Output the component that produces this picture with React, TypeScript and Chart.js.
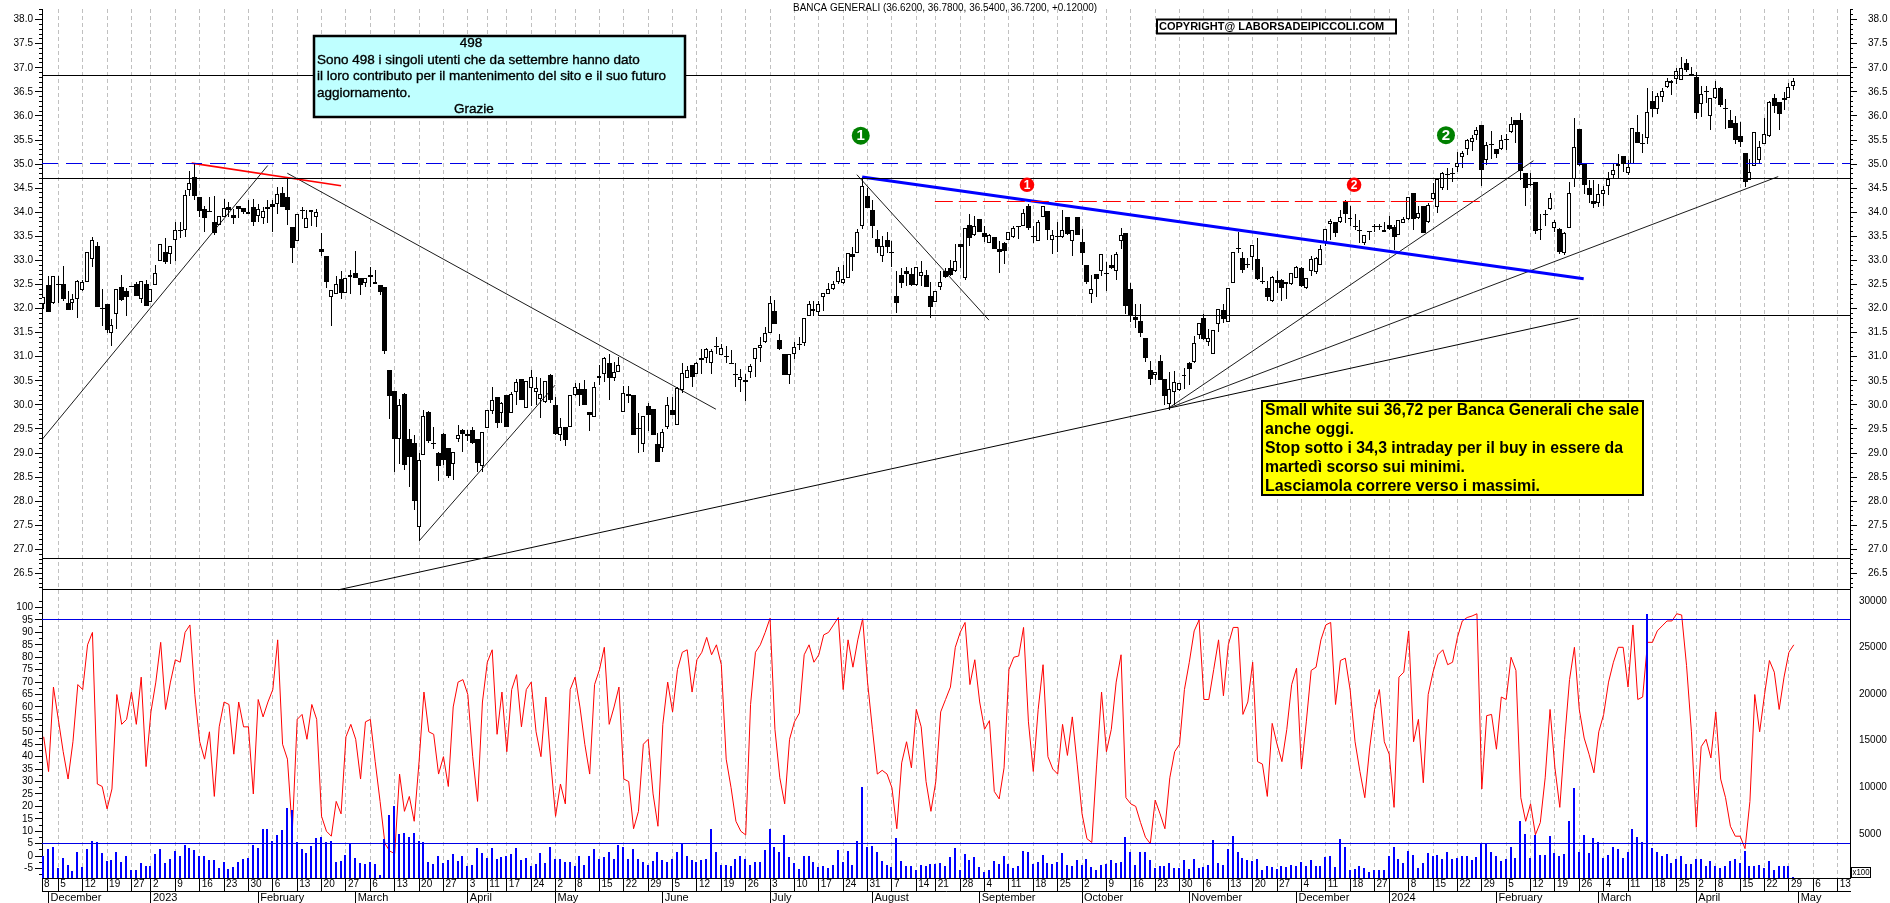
import React, { useEffect, useRef } from "react";
import { Chart, registerables } from "chart.js";

Chart.register(...registerables);

// ---------- DATA: [open, high, low, close] per trading day ----------
const ohlcWinter: number[][] = [
[32.10,32.23,31.99,32.23],[32.48,32.67,31.92,31.93],[32.11,32.68,32.09,32.68],[32.51,32.67,32.12,32.49],[32.5,32.89,32.16,32.2],[32.11,32.36,31.96,31.96],[32.11,32.31,31.97,32.2],[32.19,32.59,31.8,32.57],[32.38,32.59,32.37,32.55],[32.55,33.18,32.55,33.17],
[33.03,33.49,32.86,33.42],[33.3,33.39,32.04,32.04],[32.01,32.4,31.64,31.99],[32.09,32.09,31.5,31.56],[31.49,31.78,31.22,31.66],[31.88,32.41,31.57,32.4],[32.45,32.7,32.16,32.18],[32.36,32.43,31.84,32.23],[32.46,32.47,32.44,32.44],[32.5,32.55,32.26,32.26],
[32.19,32.58,32.11,32.58],[32.5,32.6,32.05,32.05],[32.14,32.4,32.14,32.4],[32.48,32.91,32.48,32.73],[32.99,33.34,32.98,33.34],[33.18,33.46,32.93,32.96],[33.14,33.3,32.93,33.3],[33.43,33.8,32.98,33.63],[33.64,33.8,33.46,33.62],[33.63,34.47,33.49,34.35],
[34.47,34.85,34.34,34.6],[34.73,35.01,34.25,34.33],[34.32,34.32,33.9,34.02],[34.07,34.14,33.58,33.89],[34.03,34.32,34.0,34.01],[33.79,34.33,33.53,33.56],[33.73,33.92,33.73,33.92],[33.9,34.28,33.9,34.08],[34.11,34.21,33.9,34.05],[33.94,34.07,33.75,33.89],
[34.12,34.12,33.88,34.07],[34.08,34.08,33.96,34.0],[33.96,34.25,33.96,34.0],[34.1,34.28,33.71,33.8],[33.92,34.18,33.79,34.07],[33.89,34.1,33.75,34.02],[34.11,34.26,33.78,34.07],[34.17,34.26,33.6,34.11],[34.18,34.52,33.97,34.37],[34.4,34.52,34.11,34.11],
[34.32,34.71,33.73,34.05],[33.7,33.7,32.94,33.25],[33.4,33.97,33.4,33.97],[34.04,34.11,33.87,34.02],[33.67,34.04,33.67,33.88],[34.01,34.05,33.72,34.05],[33.9,34.07,33.7,34.0],[33.24,33.56,33.1,33.17],[33.1,33.1,32.43,32.55],[32.23,32.38,31.63,32.38],
[32.31,32.67,32.31,32.52],[32.62,32.77,32.2,32.33],[32.33,32.64,32.33,32.64],[32.66,32.8,32.31,32.7],[32.74,33.2,32.64,32.64],[32.64,32.64,32.29,32.48],[32.53,32.64,32.45,32.64],[32.7,32.86,32.45,32.66],[32.5,32.81,32.5,32.55],[32.48,32.48,32.29,32.35],
[32.44,32.44,31.05,31.12],[30.73,30.73,29.71,30.19],[30.29,30.29,28.6,29.3],[29.29,30.12,28.77,30.0],[30.23,30.25,28.64,28.75],[29.3,29.5,28.3,28.92],[29.2,29.38,27.82,28.0],[27.46,29.0,27.18,28.85],[28.96,29.9,28.96,29.76],[29.85,29.88,29.2,29.25],
[29.21,29.55,29.09,29.19],[29.0,29.02,28.42,28.73],[29.4,29.42,28.75,28.86],[29.11,29.11,28.49,28.53],[28.78,29.03,28.45,29.03],[29.29,29.59,29.23,29.37],[29.47,29.5,29.02,29.4],[29.4,29.47,29.25,29.35],[29.47,29.54,29.18,29.2],[29.3,29.3,28.6,28.8],
];
const ohlcSummer: number[][] = [
[28.73,29.43,28.6,29.43],[29.52,29.89,29.52,29.89],[29.88,30.38,29.81,30.1],[30.16,30.16,29.53,29.62],[29.83,30.07,29.62,30.03],[30.2,30.2,29.55,29.55],[29.83,30.26,29.83,30.22],[30.27,30.53,30.0,30.47],[30.53,30.53,30.11,30.11],[29.93,30.5,29.93,30.5],
[30.36,30.72,29.97,30.58],[30.27,30.58,30.0,30.36],[30.12,30.55,29.73,30.22],[30.07,30.5,30.03,30.5],[30.62,30.65,30.03,30.11],[30.0,30.17,29.38,29.4],[29.38,29.73,29.26,29.55],[29.55,29.55,29.14,29.28],[29.55,30.2,29.55,30.2],[30.2,30.45,30.19,30.38],
[30.34,30.45,29.98,30.2],[30.34,30.51,30.0,30.0],[29.85,29.85,29.45,29.78],[29.75,30.48,29.75,30.38],[30.55,30.83,30.41,30.59],[30.65,30.99,30.48,30.98],[30.86,31.06,30.1,30.55],[30.55,30.89,30.5,30.68],[30.68,30.99,30.68,30.83],[29.86,30.39,29.85,30.25],
[30.22,30.39,30.03,30.19],[30.2,30.2,29.38,29.38],[29.51,29.84,29.0,29.49],[29.19,29.76,29.03,29.76],[29.98,30.03,29.45,29.8],[29.91,29.91,29.37,29.37],[29.18,29.42,28.82,28.82],[29.11,29.5,29.03,29.44],[29.54,30.17,29.5,30.0],[29.9,30.17,29.78,29.78],
[29.58,30.37,29.58,30.36],[30.31,30.86,30.24,30.67],[30.55,30.8,30.55,30.72],[30.82,30.83,30.38,30.58],[30.65,30.89,30.65,30.88],[30.98,31.16,30.65,30.93],[30.98,31.18,30.88,31.16],[30.86,31.16,30.64,31.12],[31.22,31.42,31.06,31.2],[31.04,31.27,31.03,31.18],
[31.01,31.23,30.86,30.99],[30.87,31.13,30.85,30.85],[30.65,30.86,30.38,30.62],[30.51,30.75,30.27,30.57],[30.51,30.65,30.08,30.48],[30.68,30.85,30.56,30.8],[30.96,31.18,30.58,31.18],[31.18,31.42,30.89,31.24],[31.3,31.61,31.29,31.5],[31.5,32.26,31.5,32.11],
[31.95,32.17,31.68,31.68],[31.35,31.47,31.13,31.16],[31.06,31.06,30.62,30.62],[30.62,31.06,30.43,31.06],[31.06,31.3,30.95,31.2],[31.27,31.41,31.13,31.25],[31.28,31.8,31.23,31.8],[31.85,32.16,31.85,32.09],[31.94,32.16,31.85,32.0],[31.92,32.16,31.85,32.1],
[32.23,32.33,31.95,32.33],[32.31,32.53,32.3,32.4],[32.4,32.57,32.38,32.5],[32.55,32.86,32.52,32.77],[32.53,32.91,32.52,32.62],[32.64,33.15,32.64,33.15],[33.14,33.27,32.77,33.07],[33.15,33.66,33.15,33.59],[33.71,34.73,33.66,34.55],[34.34,34.5,34.09,34.09],
[34.04,34.26,33.46,33.71],[33.44,33.63,33.15,33.27],[33.1,33.5,32.96,33.3],[33.42,33.6,33.15,33.27],[33.17,33.41,32.86,33.15],[32.27,32.77,31.9,32.12],[32.7,32.84,32.43,32.53],[32.77,32.86,32.46,32.72],[32.72,32.84,32.46,32.48],[32.48,32.87,32.46,32.86],
];
const ohlcAutumn: number[][] = [
[32.68,32.99,32.46,32.76],[32.7,32.8,32.45,32.45],[32.26,32.55,31.8,32.04],[32.14,32.36,32.14,32.36],[32.45,32.77,32.38,32.55],[32.79,32.84,32.64,32.66],[32.84,33.01,32.68,32.7],[32.77,33.34,32.75,32.99],[33.34,33.34,32.84,33.27],[32.64,33.68,32.6,33.68],
[33.73,33.96,33.3,33.47],[33.53,33.93,33.5,33.71],[33.86,33.86,33.58,33.58],[33.57,33.71,33.39,33.48],[33.36,33.55,33.36,33.53],[33.49,33.49,33.23,33.23],[33.23,33.4,32.74,33.17],[33.36,33.39,32.92,33.2],[33.43,33.58,33.43,33.58],[33.48,33.71,33.47,33.67],
[33.71,33.72,33.44,33.69],[33.72,34.07,33.72,33.99],[34.14,34.18,33.64,33.68],[33.51,33.71,33.36,33.49],[33.4,33.84,33.4,33.79],[33.9,34.14,33.9,34.14],[34.03,34.03,33.42,33.64],[33.42,33.63,33.13,33.53],[33.51,33.8,33.18,33.49],[33.49,34.05,33.46,33.64],
[33.9,33.9,33.53,33.54],[33.41,33.64,33.1,33.64],[33.9,33.9,33.53,33.53],[33.39,33.66,32.91,33.15],[32.91,32.91,32.5,32.55],[32.31,32.69,32.12,32.4],[32.71,32.71,32.23,32.62],[32.79,33.14,32.67,33.14],[32.73,32.96,32.36,32.71],[32.91,33.12,32.83,32.84],
[32.77,33.18,32.6,33.14],[33.4,33.68,33.23,33.52],[33.57,33.57,31.88,32.05],[32.4,32.53,31.72,31.85],[31.83,32.1,31.59,31.77],[31.75,32.1,31.4,31.49],[31.39,31.39,30.9,30.97],[30.73,30.92,30.41,30.53],[30.62,30.69,30.51,30.68],[30.92,31.04,30.51,30.51],
[30.53,30.53,29.99,30.19],[30.01,30.69,29.9,30.34],[30.26,30.7,29.99,30.47],[30.31,30.46,30.29,30.46],[30.61,30.77,30.34,30.63],[30.86,30.89,30.42,30.75],[30.89,31.44,30.86,31.29],[31.46,31.7,31.37,31.7],[31.81,31.88,31.34,31.37],[31.3,31.57,31.22,31.39],
[31.05,31.55,31.05,31.55],[31.68,32.0,31.51,32.0],[31.96,32.09,31.7,31.79],[31.73,32.42,31.73,32.42],[32.53,33.18,32.53,33.17],[33.26,33.58,33.15,33.24],[33.06,33.18,32.74,32.81],[32.93,33.05,32.84,32.91],[33.08,33.32,32.81,33.32],[33.03,33.46,32.6,32.61],
];
const ohlcSpring: number[][] = [
[32.58,32.86,32.51,32.56],[32.43,32.57,32.16,32.24],[32.15,32.67,32.13,32.66],[32.6,32.77,32.33,32.53],[32.6,32.61,32.16,32.43],[32.52,32.55,32.2,32.55],[32.5,32.74,32.49,32.73],[32.64,32.88,32.64,32.86],[32.84,32.86,32.45,32.47],[32.42,32.64,32.41,32.64],
[32.77,33.1,32.67,33.03],[32.75,33.07,32.72,33.06],[32.91,33.32,32.91,33.24],[33.37,33.66,33.29,33.66],[33.75,33.85,33.42,33.81],[33.79,33.79,33.49,33.56],[33.79,34.05,33.78,33.91],[34.21,34.25,33.78,33.96],[33.86,34.14,33.71,33.89],[33.72,33.97,33.64,33.7],
[33.64,33.84,33.36,33.62],[33.36,33.53,33.32,33.53],[33.61,33.62,33.42,33.58],[33.71,33.75,33.6,33.69],[33.72,33.75,33.63,33.7],[33.58,33.8,33.58,33.64],[33.73,33.92,33.64,33.65],[33.69,33.73,33.22,33.48],[33.53,33.84,33.53,33.84],[33.77,33.9,33.77,33.87],
[33.85,34.31,33.84,34.31],[34.4,34.4,33.63,33.85],[33.88,34.14,33.87,33.99],[34.14,34.14,33.56,33.56],[33.8,34.2,33.78,34.16],[34.28,34.6,34.25,34.4],[34.1,34.69,33.99,34.69],[34.5,34.83,34.47,34.81],[34.8,34.91,34.47,34.78],[34.82,34.91,34.62,34.8],
[34.93,35.26,34.84,35.03],[35.15,35.27,34.92,35.22],[35.31,35.52,35.19,35.5],[35.45,35.6,35.27,35.54],[35.6,35.77,35.49,35.71],[35.82,35.82,34.55,34.88],[35.08,35.45,34.98,35.4],[35.42,35.68,35.1,35.4],[35.31,35.31,35.12,35.2],[35.31,35.6,35.29,35.51],
[35.53,35.62,35.29,35.51],[35.66,35.97,35.65,35.84],[35.91,35.91,35.43,35.82],[35.91,36.06,34.66,34.85],[34.82,34.82,34.14,34.51],[34.59,34.81,34.55,34.57],[34.62,34.62,33.54,33.61],[33.63,33.97,33.43,33.65],[33.96,34.04,33.72,33.94],[34.06,34.39,34.04,34.3],
[33.68,33.83,33.58,33.79],[33.65,33.67,33.14,33.17],[33.15,33.58,33.12,33.56],[33.67,34.62,33.67,34.41],[34.69,35.96,34.52,35.36],[35.73,35.73,34.97,34.99],[35.03,35.03,34.37,34.57],[34.51,34.66,34.2,34.35],[34.23,34.66,34.08,34.18],[34.2,34.59,34.11,34.38],
[34.38,34.55,34.12,34.47],[34.54,34.83,34.35,34.68],[34.78,35.0,34.69,34.88],[34.95,35.21,34.68,35.01],[35.17,35.17,34.83,35.0],[34.81,35.08,34.78,34.94],[35.01,35.75,35.01,35.75],[35.67,36.01,35.43,35.43],[35.44,35.62,35.24,35.41],[35.55,36.59,35.41,36.09],
[36.3,36.51,35.98,36.14],[36.14,36.47,36.05,36.42],[36.4,36.57,36.28,36.52],[36.61,36.79,36.59,36.73],[36.69,36.75,36.44,36.73],[36.77,36.99,36.67,36.94],[36.75,37.23,36.75,37.0],[37.09,37.19,36.92,36.95],[36.88,37.02,36.83,36.85],[36.8,36.92,35.94,36.07],
[36.25,36.63,35.97,36.46],[36.52,36.63,36.27,36.5],[35.99,36.38,35.7,36.38],[36.38,36.73,36.35,36.57],[36.57,36.61,36.18,36.23],[36.17,36.35,35.72,36.15],[35.91,36.12,35.74,35.74],[35.86,36.0,35.42,35.49],[35.58,35.87,35.36,35.45],[35.22,35.22,34.52,34.62],
[34.67,35.1,34.66,34.84],[34.96,35.66,34.96,35.66],[35.08,35.48,35.0,35.36],[35.41,35.96,35.41,35.62],[35.58,36.3,35.56,36.28],[36.38,36.45,36.06,36.21],[36.28,36.28,35.7,36.03],[36.38,36.49,36.13,36.34],[36.38,36.69,36.38,36.61],[36.62,36.78,36.54,36.72],
];
const ohlc = [...ohlcWinter, ...ohlcSummer, ...ohlcAutumn, ...ohlcSpring];

const oscillatorA = [48,34,68,55,42,31,46,69,67,85,90,29,28,19,27,65,53,55,66,53,72,36,58,70,86,59,70,79,78,90,93,65,46,39,50,24,52,62,61,41,62,52,52,25,63,56,62,67,87,45,39,10,55,57,47,61,55,16,10,8,22,17,48,53,47,31,54,55,38,22,5,2,1,33,18,24,14,38,66,50,49,33,40,28,60,70,71,65,40,22,62,78,83,49,66,42,67,73,52,67,70,50,40,64,38,16,29,21,67,72,60,45,33,69,75,84,53,60,68,31,30,11,18];
const oscillatorB = [45,47,25,12,53,70,58,75,82,83,66,79,82,88,81,85,77,39,27.5,14,10,8.5,61,82,85,90,95.7,51,31.5,21,47,54,57.5,81,85,78,81,89,90,93,96,67,87,76,87,95.5,70,51,33,34.5,33,27.5,11,37.5,46,35.5,59,52,30,18,30,58,63,68,84,90,94,69,79,62,51,54.5,26,23,35.5,75,80,80.5,92,54,34,59,77,40,35,33,53,40.5,56,37,17,7,5.5,37,66,42,51,70,81,23.5,21,20,13.5,7.6,5,22.5,17,11,31.5,42,45,67,78,90.6,95,63,63,75,87,64.5,85,92,92,57,62];
const oscillatorC = [78,38,37,24,53.4,45,38,51,69,75.6,35,54,74.7,76,87,93,94,61,78.7,79.6,66.7,46,34,23.5,43.5,59,67,46,41,19.6,72,74,90.6,46,55,29.5,65,74,81,83,77,78,88,94.6,96,96.6,97.5,27,56.5,57,43,64,63,80,74.7,23.5,14,21,8.6,13.5,31.5,59,35.5,19.6,47,71,84,59,47.5,41,33.5,50,57,70,78,84,84,68,93,63,64,86,86,90.6,92.6,94.6,94.6,97.5,97,76.7,50,11.6,44,47,39.5,58,31,23.5,12,8,8,3,22,65,50,65,78.7,74,59,72,82,85];
const oscillator = [...oscillatorA, ...oscillatorB, ...oscillatorC];

const volumeA = [2630,3370,3580,1280,2380,1670,1030,3020,1420,3340,4190,4120,2910,2060,2200,3050,1990,2590,1140,1140,1850,1560,1490,2800,3340,1850,2270,3200,2560,3800,3480,3270,2590,2560,2200,2200,1310,1920,1210,1420,1950,2270,2380,3760,3480,5500,5500,4230,4870,5400,7740,7530,4150,3410,2910,3730,4550,4650,4080,4190,1920,2100,2730,3980,2420,1880,1780,2020,1740,600,4440,6990,7950,4970,5040,4680,5040,4230,4120,1990,1780,2630,1810,2200,2840,2100,2630,1560,1670,3440,2980,2420,3440,2340,2480,2630,2840,3480,2200,2420,1490,1780,2910,1850,3550,2270,2270,2020,2020,1490,2630,1670,2630,3370,2340,2480,3050,2240,3760,3580,2270,3410,2270];
const volumeB = [2020,1670,2100,3020,2200,2020,2270,3050,3980,2630,2200,1990,2130,2270,5470,3020,1670,1670,1560,2270,2630,2340,1600,1990,1990,3270,5500,3550,3050,4870,2480,1850,1210,2590,2590,1990,1420,1560,1350,1670,3270,1920,3160,1670,4190,10070,3620,3690,3020,2060,1600,1420,4500,2100,1560,1490,1140,1670,1490,1780,1780,1850,1490,2480,3440,1140,2800,2200,2480,1420,920,1140,2100,1780,2630,1780,1310,1490,3200,3020,1740,1950,2700,1850,1780,1950,2910,1670,1560,2200,1670,2270,1420,1140,1670,1740,2200,1850,1950,4650,3020,1670,3050,3050,2130,1350,1560,1560,1850,1280,1280,2130,1210,2270,1350,1420,1670,4330,1850,1670,3370,4760,3020,2380,2130];
const volumeC = [2100,2270,1140,1560,1420,1210,1560,1420,1670,1490,1920,1560,2200,1560,1490,2480,2630,1420,4400,3580,1140,1210,1560,1280,850,1070,1070,1140,2630,3550,2310,1850,3160,2700,1350,1850,2980,2560,2730,2310,3050,2310,2450,2560,2630,2130,2480,3980,3980,3050,2590,2060,2340,3620,2380,6380,4930,2450,4860,2730,2730,4750,2980,2630,2800,6350,9930,3090,4830,2910,4540,4120,2410,2730,3620,3370,2410,3020,5460,4650,4120,28620,3440,3020,2590,2840,1850,2310,2630,1780,1780,2310,2310,1560,2100,1490,1280,1560,2060,2270,1850,3160,1560,1560,1670,1350,2100,1140,1560,1490,1560,350];
const volume = [...volumeA, ...volumeB, ...volumeC];

// Calendar ticks: position in the trading-day sequence, and their labels
const weekIndex = [-0.34,3,8,13,18,22,27,32,37,42,47,52,57,62,67,72,77,82,87,91,95,100,105,109,114,119,124,129,134,139,144,149,154,159,164,169,174,179,183,188,193,198,203,208,213,218,223,228,233,238,243,248,253,258,263,268,273,276,280,285,290,295,300,305,310,315,320,325,330,335,339,343,348,353,358,363,368];
const weekLabels = ["8","5","12","19","27","2","9","16","23","30","6","13","20","27","6","13","20","27","3","11","17","24","2","8","15","22","29","5","12","19","26","3","10","17","24","31","7","14","21","28","4","11","18","25","2","9","16","23","30","6","13","20","27","4","11","18","27","","8","15","22","29","5","12","19","26","4","11","18","25","2","8","15","22","29","6","13"];
const monthIndex = [1,22,44,64,87,105,127,149,170,192,213,235,257,276,298,319,339,360];
const monthLabels = ["December","2023","February","March","April","May","June","July","August","September","October","November","December","2024","February","March","April","May"];

const priceTicks = [26.5,27,27.5,28,28.5,29,29.5,30,30.5,31,31.5,32,32.5,33,33.5,34,34.5,35,35.5,36,36.5,37,37.5,38];
const oscillatorTicks = [-5,0,5,10,15,20,25,30,35,40,45,50,55,60,65,70,75,80,85,90,95,100];
const volumeTicks = [5000,10000,15000,20000,25000,30000];

// Drawn levels and trend lines, in chart values: [index, price, index, price]
const xMin = -0.349;
const xMax = 370.53;
const blackLevels = [36.84, 34.7, 26.81, 26.16];
const supportLevel = [158.9, 31.85, xMax, 31.85];
const blueDashedLevel = 35.02;
const redDashedLevel = [182.8, 34.23, 294.6, 34.23];
const oscillatorLevels = [95, 5];
const redTrend = [30.36, 35.02, 61, 34.55];
const thickBlueTrend = [167.9, 34.73, 315.9, 32.62];
const thinTrends = [
  [-0.349, 29.28, 45.95, 34.97],
  [49.97, 34.81, 137.9, 29.91],
  [77.05, 27.18, 104.9, 30.41],
  [166.8, 34.78, 193.9, 31.76],
  [230.7, 29.93, 305.6, 35.07],
  [230.7, 29.93, 355.8, 34.74],
];
const mediumTrends = [
  [60.43, 26.16, 230.7, 29.93],
  [230.7, 29.93, 314.8, 31.8],
];
const greenMarks = [{ x: 167.6, y: 35.59 }, { x: 287.65, y: 35.6 }];
const redMarks = [{ x: 201.7, y: 34.57 }, { x: 268.8, y: 34.57 }];
const markDigits = ["1", "2"];

const titleText = "BANCA GENERALI (36.6200, 36.7800, 36.5400, 36.7200, +0.12000)";
const copyrightText = "COPYRIGHT@ LABORSADEIPICCOLI.COM";
const cyanLines = ["Sono 498 i singoli utenti che da settembre hanno dato", "il loro contributo per il mantenimento del sito e il suo futuro", "aggiornamento."];
const cyanHead = "498";
const cyanFoot = "Grazie";
const yellowLines = ["Small white sui 36,72 per Banca Generali che sale", "anche oggi.", "Stop sotto i 34,3 intraday per il buy in essere da", "martedì scorso sui minimi.", "Lasciamola correre verso i massimi."];
const FONT = '"Liberation Sans", Arial, sans-serif';

const segment = (s: number[], color: string, width: number, dash: number[] = [], axis = "yPrice", snap = false) => ({
  type: "line",
  xAxisID: "x",
  yAxisID: axis,
  data: [{ x: s[0], y: s[1] }, { x: s[2], y: s[3] }],
  borderColor: color,
  borderWidth: width,
  borderDash: dash,
  pointRadius: 0,
  order: 1,
  snapLine: snap,
});

const pixelSnap = {
  id: "pixelSnap",
  beforeDatasetsDraw(chart: any) {
    chart.getSortedVisibleDatasetMetas().forEach((meta: any) => {
      const ds: any = chart.data.datasets[meta.index];
      if (meta.type === "bar") {
        const odd = (ds.maxBarThickness || 1) % 2 === 1;
        meta.data.forEach((el: any) => {
          el.x = odd ? Math.floor(el.x) + 0.5 : Math.floor(el.x);
          el.y = Math.round(el.y);
          el.base = Math.round(el.base);
          if (Math.abs(el.base - el.y) < 1) el.base = el.y + 1;
        });
      } else if (ds.snapLine) {
        meta.data.forEach((el: any) => {
          el.y = Math.floor(el.y) + 0.5;
        });
      }
    });
  },
};

const box = (ctx: any, x: number, y: number, w: number, h: number, fill: string, lw: number) => {
  ctx.fillStyle = fill;
  ctx.fillRect(x, y, w, h);
  ctx.strokeStyle = "#000";
  ctx.lineWidth = lw;
  ctx.strokeRect(x, y, w, h);
};

const overlays = {
  id: "overlays",
  afterDatasetsDraw(chart: any) {
    const ctx = chart.ctx;
    const sc = chart.scales;
    ctx.save();
    // minor axis marks
    ctx.strokeStyle = "#000";
    ctx.lineWidth = 1;
    ctx.beginPath();
    for (let t = 262; t <= 382; t++) {
      if (t % 5 === 0) continue;
      const y = Math.floor(sc.yPrice.getPixelForValue(t / 10)) + 0.5;
      ctx.moveTo(39, y); ctx.lineTo(42, y);
      ctx.moveTo(1850, y); ctx.lineTo(1853, y);
    }
    for (let t = -7.5; t <= 105; t += 5) {
      const y = Math.floor(sc.yRsi.getPixelForValue(t)) + 0.5;
      ctx.moveTo(39, y); ctx.lineTo(42, y);
    }
    ctx.stroke();

    ctx.textBaseline = "middle";
    ctx.fillStyle = "#000";
    ctx.textAlign = "left";
    ctx.font = `10px ${FONT}`;
    ctx.fillText(titleText, 793, 8.5, 304);

    // copyright
    box(ctx, 1157, 19.5, 239, 14, "#fff", 2);
    ctx.fillStyle = "#000";
    ctx.font = `bold 11px ${FONT}`;
    ctx.fillText(copyrightText, 1159, 27, 235);

    // cyan note
    box(ctx, 314, 36, 371, 81, "#bfffff", 2.5);
    ctx.fillStyle = "#000";
    ctx.strokeStyle = "#000";
    ctx.lineWidth = 0.35;
    ctx.font = `13.5px ${FONT}`;
    ctx.textAlign = "center";
    ctx.fillText(cyanHead, 471, 43);
    ctx.strokeText(cyanHead, 471, 43);
    ctx.fillText(cyanFoot, 474, 109);
    ctx.strokeText(cyanFoot, 474, 109);
    ctx.textAlign = "left";
    const cyanY = [60, 76, 93];
    const cyanW = [336, 365, 96];
    cyanLines.forEach((t, i) => {
      ctx.fillText(t, 317, cyanY[i], cyanW[i]);
      ctx.strokeText(t, 317, cyanY[i], cyanW[i]);
    });

    // yellow note
    box(ctx, 1262, 401, 381, 94, "#ffff00", 2);
    ctx.fillStyle = "#000";
    ctx.font = `bold 16px ${FONT}`;
    const yellowY = [411, 430, 449, 468, 487];
    const yellowW = [374, 89, 358, 200, 275];
    yellowLines.forEach((t, i) => ctx.fillText(t, 1265, yellowY[i], yellowW[i]));

    // x100 tag
    ctx.strokeStyle = "#000";
    ctx.lineWidth = 1;
    ctx.strokeRect(1851.5, 867.5, 19, 10);
    ctx.font = `9px ${FONT}`;
    ctx.fillText("x100", 1852.5, 873, 17);

    // digits on the round markers
    ctx.fillStyle = "#fff";
    ctx.textAlign = "center";
    chart.getSortedVisibleDatasetMetas().forEach((meta: any) => {
      const ds: any = chart.data.datasets[meta.index];
      if (!ds.markFont) return;
      ctx.font = `bold ${ds.markFont}px ${FONT}`;
      meta.data.forEach((el: any, i: number) => ctx.fillText(markDigits[i], el.x, el.y + 0.5));
    });
    ctx.restore();
  },
};

function setTicks(values: number[]) {
  return (s: any) => { s.ticks = values.map((value) => ({ value })); };
}
function clearPadding(s: any) {
  s.paddingTop = 0;
  s.paddingBottom = 0;
  s.paddingLeft = 0;
  s.paddingRight = 0;
}

export default function App() {
  const ref = useRef<HTMLCanvasElement | null>(null);
  useEffect(() => {
    if (ohlc.length !== 360 || oscillator.length !== 360 || volume.length !== 360 || weekIndex.length !== weekLabels.length) {
      throw new Error(`lengths ${ohlc.length} ${oscillator.length} ${volume.length} ${weekIndex.length} ${weekLabels.length}`);
    }
    Chart.defaults.font.family = FONT;
    const up = ohlc.map((b, i) => ({ b, i })).filter((d) => d.b[3] >= d.b[0]);
    const down = ohlc.map((b, i) => ({ b, i })).filter((d) => d.b[3] < d.b[0]);

    const barBase = { type: "bar", xAxisID: "x", grouped: false, borderSkipped: false, inflateAmount: 0 };
    const datasets: any[] = [
      {
        type: "line", xAxisID: "x", yAxisID: "yRsi",
        data: oscillator.map((y, x) => ({ x, y })),
        borderColor: "#ff0000", borderWidth: 1, pointRadius: 0, tension: 0, order: 30,
      },
      {
        ...barBase, yAxisID: "yVol", data: volume.map((y, x) => ({ x, y })),
        backgroundColor: "#0000ff", barThickness: 2, maxBarThickness: 2, borderWidth: 0, order: 25,
      },
      {
        ...barBase, yAxisID: "yPrice", data: ohlc.map((b, x) => ({ x, y: [b[2], b[1]] })),
        backgroundColor: "#000", barThickness: 1, maxBarThickness: 1, borderWidth: 0, order: 20,
      },
      {
        ...barBase, yAxisID: "yPrice", data: up.map((d) => ({ x: d.i, y: [d.b[0], d.b[3]] })),
        backgroundColor: "#fff", borderColor: "#000", borderWidth: 1, barThickness: 4, maxBarThickness: 4, order: 15,
      },
      {
        ...barBase, yAxisID: "yPrice", data: down.map((d) => ({ x: d.i, y: [d.b[0], d.b[3]] })),
        backgroundColor: "#000", borderColor: "#000", borderWidth: 0, barThickness: 5, maxBarThickness: 5, order: 15,
      },
      ...blackLevels.map((p) => segment([xMin, p, xMax, p], "#000", 1, [], "yPrice", true)),
      segment(supportLevel, "#000", 1, [], "yPrice", true),
      segment([xMin, blueDashedLevel, xMax, blueDashedLevel], "#0000e6", 1, [16, 8], "yPrice", true),
      segment(redDashedLevel, "#ff0000", 1, [18, 6], "yPrice", true),
      ...oscillatorLevels.map((p) => segment([xMin, p, xMax, p], "#0000e6", 1, [], "yRsi", true)),
      segment(redTrend, "#ff0000", 1.6),
      segment(thickBlueTrend, "#0000ff", 3),
      ...thinTrends.map((s) => segment(s, "#000", 0.9)),
      ...mediumTrends.map((s) => segment(s, "#000", 1)),
      {
        type: "line", xAxisID: "x", yAxisID: "yPrice", data: greenMarks, showLine: false,
        pointRadius: 9, pointBackgroundColor: "#008000", pointBorderColor: "#008000", pointBorderWidth: 0,
        order: 0, markFont: 15,
      },
      {
        type: "line", xAxisID: "x", yAxisID: "yPrice", data: redMarks, showLine: false,
        pointRadius: 7.3, pointBackgroundColor: "#ff0000", pointBorderColor: "#ff0000", pointBorderWidth: 0,
        order: 0, markFont: 12,
      },
    ];

    const yCommon = (side: "left" | "right") => ({
      type: "linear", position: side, offset: false,
      afterFit: (s: any) => { s.width = side === "left" ? 42 : 40; clearPadding(s); },
    });
    const yGrid = (visible: boolean) => ({
      drawOnChartArea: false, tickLength: 7, tickColor: visible ? "#000" : "rgba(0,0,0,0)", color: "#000",
    });
    const yTicks = (extra: any) => ({ color: "#000", font: { size: 10, family: FONT }, autoSkip: false, maxRotation: 0, ...extra });

    const chart = new Chart(ref.current as HTMLCanvasElement, {
      type: "bar",
      data: { datasets },
      plugins: [pixelSnap, overlays],
      options: {
        animation: false,
        responsive: false,
        maintainAspectRatio: false,
        layout: { padding: 0 },
        plugins: { legend: { display: false }, title: { display: false }, tooltip: { enabled: false } },
        scales: {
          x: {
            type: "linear", position: "bottom", min: xMin, max: xMax, offset: false,
            afterBuildTicks: setTicks(weekIndex),
            afterFit: (s: any) => { s.height = 13; clearPadding(s); },
            grid: { offset: false, color: "#c0c0c0", tickColor: "#000", tickLength: 13, tickBorderDash: [] },
            border: { color: "#000", dash: [4, 3] },
            ticks: {
              callback: (_v: any, i: number) => weekLabels[i], align: "start", padding: -13, labelOffset: 2,
              color: "#000", font: { size: 10, family: FONT }, autoSkip: false, maxRotation: 0, minRotation: 0,
            },
          },
          x2: {
            type: "linear", axis: "x", position: "bottom", min: xMin, max: xMax, offset: false,
            afterBuildTicks: setTicks(monthIndex),
            afterFit: (s: any) => { s.height = 12; clearPadding(s); },
            grid: { offset: false, drawOnChartArea: false, color: "#000", tickColor: "#000", tickLength: 12 },
            border: { color: "#000" },
            ticks: {
              callback: (_v: any, i: number) => monthLabels[i], align: "start", padding: -12, labelOffset: 2,
              color: "#000", font: { size: 11, family: FONT }, autoSkip: false, maxRotation: 0, minRotation: 0,
            },
          },
          yRsi: {
            ...yCommon("left"), stack: "left", stackWeight: 289, min: -8.82, max: 106.27,
            afterBuildTicks: setTicks(oscillatorTicks), grid: yGrid(true), border: { color: "#000" },
            ticks: yTicks({ padding: 2, callback: (v: number) => String(v) }),
          },
          yPrice: {
            ...yCommon("left"), stack: "left", stackWeight: 589, min: 26.116, max: 38.22,
            afterBuildTicks: setTicks(priceTicks), grid: yGrid(true), border: { color: "#000" },
            ticks: yTicks({ padding: 2, callback: (v: number) => v.toFixed(1) }),
          },
          yPriceR: {
            ...yCommon("right"), stack: "right", stackWeight: 589, min: 26.116, max: 38.22,
            afterBuildTicks: setTicks(priceTicks), grid: yGrid(true), border: { color: "#000" },
            ticks: yTicks({ padding: 11, callback: (v: number) => v.toFixed(1) }),
          },
          yVol: {
            ...yCommon("right"), stack: "right", stackWeight: 289, min: 250, max: 30956,
            afterBuildTicks: setTicks(volumeTicks), grid: yGrid(false), border: { color: "#000" },
            ticks: yTicks({ padding: 2, callback: (v: number) => String(v) }),
          },
        },
      } as any,
    } as any);
    return () => chart.destroy();
  }, []);
  return (
    <div style={{ position: "absolute", left: 0, top: 0, width: 1890, height: 903, background: "#fff" }}>
      <canvas ref={ref} width={1890} height={903} style={{ display: "block" }} />
    </div>
  );
}
